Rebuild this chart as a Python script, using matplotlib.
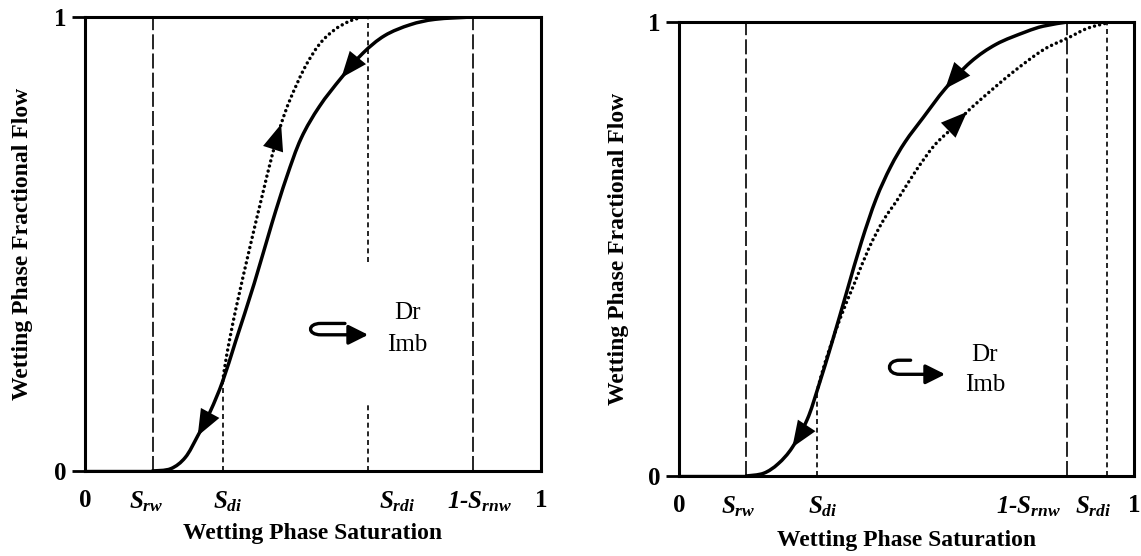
import numpy as np
import matplotlib
matplotlib.use("Agg")
import matplotlib.pyplot as plt
from matplotlib.patches import FancyArrowPatch, PathPatch
from matplotlib.path import Path

plt.rcParams['font.family'] = ['Liberation Serif', 'DejaVu Serif']
plt.rcParams['mathtext.fontset'] = 'custom'
plt.rcParams['mathtext.it'] = 'Liberation Serif:italic:bold'
plt.rcParams['mathtext.rm'] = 'Liberation Serif:bold'
plt.rcParams['mathtext.bf'] = 'Liberation Serif:bold'

# ---- left panel (S_rdi < 1-S_rnw) ----
left_sat_lines = {'Srw': 0.148, 'Sdi': 0.302, 'Srdi': 0.620, '1-Srnw': 0.850}
left_srdi_gap = (0.15, 0.46)
left_tick_pos = [0.0, 0.134, 0.314, 0.684, 0.866, 1.0]
left_tick_lbl = ['0', r'$S_{rw}$', r'$S_{di}$', r'$S_{rdi}$', r'1-$S_{rnw}$', '1']

left_dr_x = [0.148, 0.188, 0.220, 0.247, 0.275, 0.302, 0.331, 0.371, 0.410, 0.442,
             0.474, 0.514, 0.562, 0.609, 0.657, 0.713, 0.768, 0.848]
left_dr_y = [0.0, 0.005, 0.030, 0.077, 0.132, 0.198, 0.288, 0.413, 0.546, 0.647,
             0.733, 0.803, 0.866, 0.920, 0.959, 0.983, 0.995, 1.0]
left_im_x = [0.302, 0.311, 0.331, 0.363, 0.387, 0.410, 0.430, 0.450, 0.482, 0.514,
             0.546, 0.578, 0.609]
left_im_y = [0.198, 0.257, 0.358, 0.499, 0.600, 0.694, 0.764, 0.819, 0.889, 0.940,
             0.971, 0.990, 1.0]

# ---- right panel (S_rdi > 1-S_rnw) ----
right_sat_lines = {'Srw': 0.148, 'Sdi': 0.303, 'Srdi': 0.940, '1-Srnw': 0.852}
right_tick_pos = [0.0, 0.130, 0.315, 0.767, 0.910, 1.0]
right_tick_lbl = ['0', r'$S_{rw}$', r'$S_{di}$', r'1-$S_{rnw}$', r'$S_{rdi}$', '1']

right_dr_x = [0.148, 0.186, 0.218, 0.249, 0.282, 0.306, 0.337, 0.369, 0.401, 0.433,
              0.465, 0.497, 0.537, 0.585, 0.641, 0.697, 0.761, 0.801, 0.853]
right_dr_y = [0.0, 0.006, 0.027, 0.063, 0.125, 0.196, 0.297, 0.407, 0.516, 0.610,
              0.681, 0.736, 0.790, 0.853, 0.912, 0.951, 0.978, 0.991, 1.0]
right_im_x = [0.306, 0.321, 0.353, 0.385, 0.417, 0.449, 0.481, 0.521, 0.561, 0.601,
              0.633, 0.681, 0.737, 0.801, 0.857, 0.897, 0.941]
right_im_y = [0.196, 0.250, 0.344, 0.423, 0.501, 0.563, 0.610, 0.673, 0.728, 0.767,
              0.802, 0.845, 0.892, 0.939, 0.966, 0.986, 0.998]

# arrow locations (index into curve), and the legend hook / text spots
left_arrows = {'dr': [3, 12], 'im': [6]}
right_arrows = {'dr': [3, 13], 'im': [10]}
left_hook = (0.497, 0.300, 0.325, 0.570, 0.621)   # x_left, y_bottom, y_top, x_start, x_tip
right_hook = (0.465, 0.224, 0.255, 0.509, 0.585)
left_txt = [(0.706, 0.348), (0.706, 0.278)]
right_txt = [(0.672, 0.267), (0.672, 0.200)]


def smooth_path(xs, ys):
    # cubic bezier through the read points (Catmull-Rom tangents)
    p = np.column_stack([xs, ys])
    verts = [p[0]]
    codes = [Path.MOVETO]
    for i in range(len(p) - 1):
        p0 = p[i - 1] if i > 0 else p[i]
        p3 = p[i + 2] if i + 2 < len(p) else p[i + 1]
        verts += [p[i] + (p[i + 1] - p0) / 6, p[i + 1] - (p3 - p[i]) / 6, p[i + 1]]
        codes += [Path.CURVE4] * 3
    return Path(verts, codes)


def curve_arrow(ax, xs, ys, i, backward):
    j, k = (i + 1, i - 1) if backward else (i - 1, i + 1)
    dx, dy = xs[k] - xs[j], ys[k] - ys[j]
    n = np.hypot(dx, dy)
    tail = (xs[i] - dx / n * 0.06, ys[i] - dy / n * 0.06)
    ax.add_patch(FancyArrowPatch(tail, (xs[i], ys[i]),
                                 arrowstyle='-|>,head_length=0.9,head_width=0.36',
                                 mutation_scale=21, lw=0, color='k', zorder=5,
                                 shrinkA=0, shrinkB=0))


def hook(ax, h):
    xl, yb, yt, xs, xt = h
    verts = [(xs, yt), (xl + 0.02, yt), (xl - 0.01, yt), (xl - 0.01, yb),
             (xl + 0.02, yb), (xt, yb)]
    codes = [Path.MOVETO, Path.LINETO, Path.CURVE4, Path.CURVE4, Path.CURVE4, Path.LINETO]
    ax.add_patch(FancyArrowPatch(path=Path(verts, codes), transform=ax.transAxes,
                                 arrowstyle='-|>,head_length=0.7,head_width=0.35',
                                 mutation_scale=17, lw=2.4, color='k'))


def panel(ax, lines, dr_x, dr_y, im_x, im_y, tick_pos, tick_lbl, arrows, hk, txt, srdi_gap=None):
    ax.set_xlim(0, 1)
    ax.set_ylim(0, 1)
    for s in ax.spines.values():
        s.set_linewidth(2.2)

    # saturation end points
    for key in ['Srw', '1-Srnw']:
        ax.plot([lines[key]] * 2, [0, 1], color='k', lw=1.2, ls=(0, (9, 2.5)))
    sdi_top = np.interp(lines['Sdi'], dr_x, dr_y)
    ax.plot([lines['Sdi']] * 2, [0, sdi_top], color='k', lw=1.2, ls=(0, (3, 2.2)))
    if srdi_gap is None:
        ax.plot([lines['Srdi']] * 2, [0, 1], color='k', lw=1.2, ls=(0, (3, 2.2)))
    else:
        ax.plot([lines['Srdi']] * 2, [0, srdi_gap[0]], color='k', lw=1.2, ls=(0, (3, 2.2)))
        ax.plot([lines['Srdi']] * 2, [srdi_gap[1], 1], color='k', lw=1.2, ls=(0, (3, 2.2)))

    # drainage (solid) and imbibition (dotted) curves
    ax.add_patch(PathPatch(smooth_path(dr_x, dr_y), fill=False, ec='k', lw=2.5,
                           capstyle='round', joinstyle='round'))
    ax.plot([0, dr_x[0]], [0, 0], color='k', lw=2.4)
    ax.add_patch(PathPatch(smooth_path(im_x, im_y), fill=False, ec='k', lw=2.5,
                           ls=(0, (0.01, 1.5)), capstyle='round'))
    for i in arrows['dr']:
        curve_arrow(ax, dr_x, dr_y, i, True)
    for i in arrows['im']:
        curve_arrow(ax, im_x, im_y, i, False)

    hook(ax, hk)
    ax.text(*txt[0], 'Dr', transform=ax.transAxes, fontsize=18, ha='center', va='center')
    ax.text(*txt[1], 'Imb', transform=ax.transAxes, fontsize=18, ha='center', va='center')

    # ticks
    ax.set_xticks(tick_pos)
    ax.set_xticklabels(tick_lbl)
    for lbl in ax.get_xticklabels():
        t = lbl.get_text()
        lbl.set_fontsize(18)
        lbl.set_fontweight('bold')
        if t not in ('0', '1'):
            lbl.set_fontstyle('italic')
    ax.set_xticks([0, 1], minor=True)
    ax.tick_params(axis='x', which='major', length=0, pad=13)
    ax.tick_params(axis='x', which='minor', length=9.4, width=2, direction='out')
    ax.set_yticks([0, 1])
    ax.set_yticklabels(['0', '1'], fontsize=18, fontweight='bold')
    ax.tick_params(axis='y', length=9.4, width=2, direction='out', pad=4)

    ax.set_xlabel('Wetting Phase Saturation', fontsize=17, fontweight='bold', va='center')
    ax.set_ylabel('Wetting Phase Fractional Flow', fontsize=17, fontweight='bold',
                  va='center', ha='center')


fig = plt.figure(figsize=(11.41, 5.56), dpi=100)
ax1 = fig.add_axes([0.0745, 0.1529, 0.3997, 0.8165])
ax2 = fig.add_axes([0.5951, 0.1439, 0.3988, 0.8165])

panel(ax1, left_sat_lines, left_dr_x, left_dr_y, left_im_x, left_im_y,
      left_tick_pos, left_tick_lbl, left_arrows, left_hook, left_txt, left_srdi_gap)
panel(ax2, right_sat_lines, right_dr_x, right_dr_y, right_im_x, right_im_y,
      right_tick_pos, right_tick_lbl, right_arrows, right_hook, right_txt)

ax1.xaxis.set_label_coords(0.5, -0.137)
ax1.yaxis.set_label_coords(-0.138, 0.5)
ax2.xaxis.set_label_coords(0.5, -0.141)
ax2.yaxis.set_label_coords(-0.134, 0.5)

fig.savefig('out.png', dpi=100)
